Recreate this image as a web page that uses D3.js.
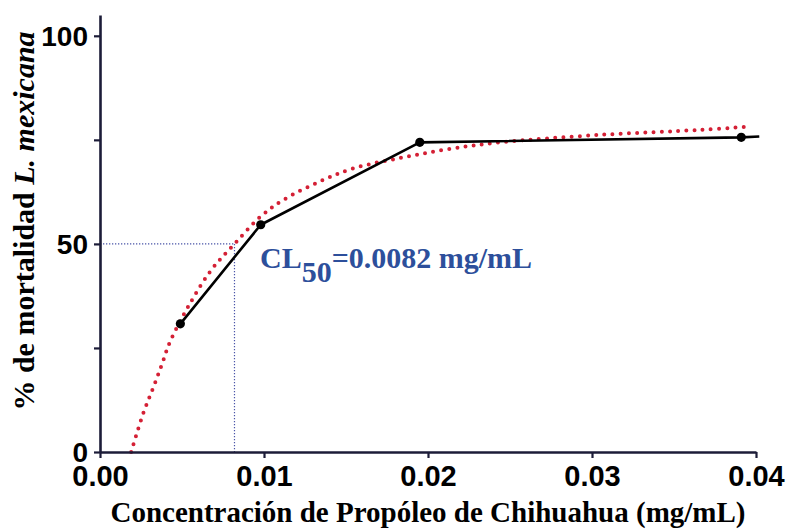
<!DOCTYPE html>
<html>
<head>
<meta charset="utf-8">
<script src="https://cdn.jsdelivr.net/npm/d3@7"></script>
<style>
  html, body { margin: 0; padding: 0; background: #fff; }
  svg { display: block; }
</style>
</head>
<body>
<svg id="chart" width="790" height="531"></svg>
<script>
// Observed mortality (%) against propolis concentration (mg/mL)
const concentration = [0.0049, 0.0098, 0.0195, 0.0391];
const mortality = [30.8, 54.6, 74.4, 75.6];
// the connecting line runs on to the end of the axis
const lineTail = { x: 0.0402, y: 75.8 };

// Fitted dose–response curve, sampled along its length
const fitX = [0.0019, 0.00264, 0.00325, 0.00376, 0.00427, 0.00549, 0.0068, 0.0082, 0.0098, 0.0112, 0.0134, 0.0155, 0.0185, 0.0213, 0.0244, 0.0305, 0.0366, 0.0397];
const fitY = [0, 9.3, 15.5, 20.9, 26.5, 35.7, 43.8, 50.0, 56.6, 60.6, 65.0, 68.2, 70.8, 72.8, 74.4, 76.2, 77.4, 78.2];

// Median lethal concentration
const cl50 = 0.0082;
const cl50Level = 50;

const xTicks = [0, 0.01, 0.02, 0.03, 0.04];
const xTickLabels = ["0.00", "0.01", "0.02", "0.03", "0.04"];
const yTicks = [0, 25, 50, 75, 100];
const yTickLabels = { 0: "0", 50: "50", 100: "100" };

const svg = d3.select("#chart");

const x = d3.scaleLinear().domain([0, 0.04]).range([100, 756]);
const y = d3.scaleLinear().domain([0, 105]).range([452, 15]);

const axisColor = "#1c1c38";
const tickFont = "'Liberation Sans', Arial, sans-serif";
const titleFont = "'Liberation Serif', 'Times New Roman', serif";

// CL50 guide lines
const guide = svg.append("g")
  .attr("fill", "none")
  .attr("stroke", "#4a55a8")
  .attr("stroke-width", 1.2)
  .attr("stroke-dasharray", "1.3 1.7");
guide.append("line")
  .attr("x1", x(0)).attr("x2", x(cl50))
  .attr("y1", y(cl50Level)).attr("y2", y(cl50Level));
guide.append("line")
  .attr("x1", x(cl50)).attr("x2", x(cl50))
  .attr("y1", y(cl50Level)).attr("y2", y(0));

// Fitted curve as a red dotted line
const fitLine = d3.line()
  .x((d, i) => x(fitX[i]))
  .y(d => y(d))
  .curve(d3.curveCatmullRom.alpha(0.5));
svg.append("path")
  .attr("d", fitLine(fitY))
  .attr("fill", "none")
  .attr("stroke", "#d42035")
  .attr("stroke-width", 4)
  .attr("stroke-linecap", "round")
  .attr("stroke-dasharray", "0 8.2");

// Observed data: connecting line and markers
const obs = concentration.map((c, i) => ({ x: c, y: mortality[i] }));
const dataLine = d3.line().x(d => x(d.x)).y(d => y(d.y));
svg.append("path")
  .attr("d", dataLine(obs.concat([lineTail])))
  .attr("fill", "none")
  .attr("stroke", "#000")
  .attr("stroke-width", 2.6)
  .attr("stroke-linejoin", "round");
svg.append("g").selectAll("circle")
  .data(obs)
  .join("circle")
  .attr("cx", d => x(d.x))
  .attr("cy", d => y(d.y))
  .attr("r", 4.6)
  .attr("fill", "#000");

// Axes
const xAxis = d3.axisBottom(x)
  .tickValues(xTicks)
  .tickFormat((d, i) => xTickLabels[i])
  .tickSizeOuter(0)
  .tickSizeInner(6)
  .tickPadding(4);
const gx = svg.append("g")
  .attr("transform", `translate(0,${y(0)})`)
  .call(xAxis);

const yAxis = d3.axisLeft(y)
  .tickValues(yTicks)
  .tickFormat(d => yTickLabels[d] || "")
  .tickSizeOuter(0)
  .tickSizeInner(6)
  .tickPadding(6);
const gy = svg.append("g")
  .attr("transform", `translate(${x(0)},0)`)
  .call(yAxis);

[gx, gy].forEach(g => {
  g.select(".domain").attr("stroke", axisColor).attr("stroke-width", 2.6);
  g.selectAll(".tick line").attr("stroke", axisColor).attr("stroke-width", 2.2);
  g.selectAll(".tick text")
    .attr("fill", "#000")
    .attr("font-family", tickFont)
    .attr("font-weight", "bold");
});
gx.selectAll(".tick text").attr("font-size", 29).attr("dy", "0.84em");
gy.selectAll(".tick text").attr("font-size", 28).attr("dy", "0.34em");

// Axis titles
svg.append("text")
  .attr("x", x(0.02))
  .attr("y", 522)
  .attr("text-anchor", "middle")
  .attr("font-family", titleFont)
  .attr("font-weight", "bold")
  .attr("font-size", 29)
  .attr("fill", "#000")
  .text("Concentración de Propóleo de Chihuahua (mg/mL)");

const yTitle = svg.append("text")
  .attr("transform", "translate(34,221) rotate(-90)")
  .attr("text-anchor", "middle")
  .attr("font-family", titleFont)
  .attr("font-weight", "bold")
  .attr("font-size", 30)
  .attr("fill", "#000");
yTitle.append("tspan").text("% de mortalidad ");
yTitle.append("tspan").attr("font-style", "italic").text("L. mexicana");

// CL50 annotation
const ann = svg.append("text")
  .attr("x", 260)
  .attr("y", 268)
  .attr("font-family", titleFont)
  .attr("font-weight", "bold")
  .attr("font-size", 30)
  .attr("fill", "#2d4f9b");
ann.append("tspan").text("CL");
ann.append("tspan").attr("dy", 14).text("50");
ann.append("tspan").attr("dy", -14).text("=" + cl50.toFixed(4) + " mg/mL");
</script>
</body>
</html>
